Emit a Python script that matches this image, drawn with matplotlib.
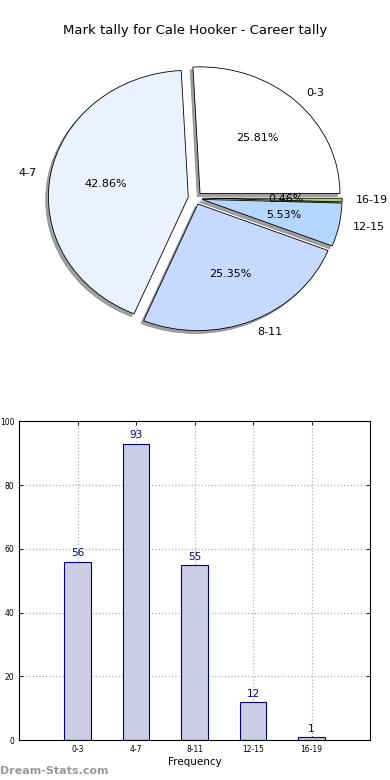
import matplotlib
matplotlib.use('Agg')
import matplotlib.pyplot as plt
import numpy as np

# data
labels = ['0-3', '4-7', '8-11', '12-15', '16-19']
counts = [56, 93, 55, 12, 1]
pie_colors = ['#ffffff', '#eaf1ff', '#c6d9ff', '#b4d6ff', '#b0cc70']

fig = plt.figure(figsize=(3.9, 7.8), dpi=100)

# pie chart (old-style egg shape, no equal aspect)
ax1 = fig.add_axes([0.052, 0.543, 0.897, 0.406])
wedges, texts, autotexts = ax1.pie(
    counts, labels=labels, colors=pie_colors, autopct='%.2f%%',
    explode=[0.05] * len(counts), startangle=0,
    wedgeprops={'edgecolor': 'black', 'linewidth': 0.6},
    shadow={'ox': -0.014, 'oy': -0.016, 'facecolor': '0.5',
            'edgecolor': '0.5', 'alpha': 0.75},
    textprops={'fontsize': 8})
ax1.set_aspect('auto')
ax1.set_xlim(-1.25, 1.25)
ax1.set_ylim(-1.25, 1.25)

fig.text(0.5, 0.961, 'Mark tally for Cale Hooker - Career tally',
         ha='center', va='center', fontsize=9.5)

# bar chart
ax2 = fig.add_axes([0.049, 0.051, 0.9, 0.409])
x = np.arange(len(labels))
bars = ax2.bar(x, counts, width=0.45, color='#ccccE4', edgecolor='navy',
               linewidth=0.8, zorder=2)
for bar, v in zip(bars, counts):
    ax2.text(bar.get_x() + bar.get_width() / 2, bar.get_height() + 1, str(v),
             ha='center', va='bottom', fontsize=7.5, color='navy')

ax2.set_xlim(-1, 5)
ax2.set_ylim(0, 100)
ax2.set_xticks(x)
ax2.set_xticklabels(labels, fontsize=5.5)
ax2.set_yticks([0, 20, 40, 60, 80, 100])
ax2.tick_params(axis='y', labelsize=5.5)
ax2.tick_params(direction='in', top=True, right=True, length=3, width=0.6)
ax2.grid(True, linestyle=':', color='#b0b0b0', linewidth=0.9, zorder=0)
ax2.set_axisbelow(True)
ax2.set_xlabel('Frequency', fontsize=7.5, labelpad=2)

fig.text(0.0, 0.012, 'Dream-Stats.com', ha='left', va='center',
         fontsize=8, color='#999999', fontweight='bold')

fig.savefig('out.png', dpi=100)
